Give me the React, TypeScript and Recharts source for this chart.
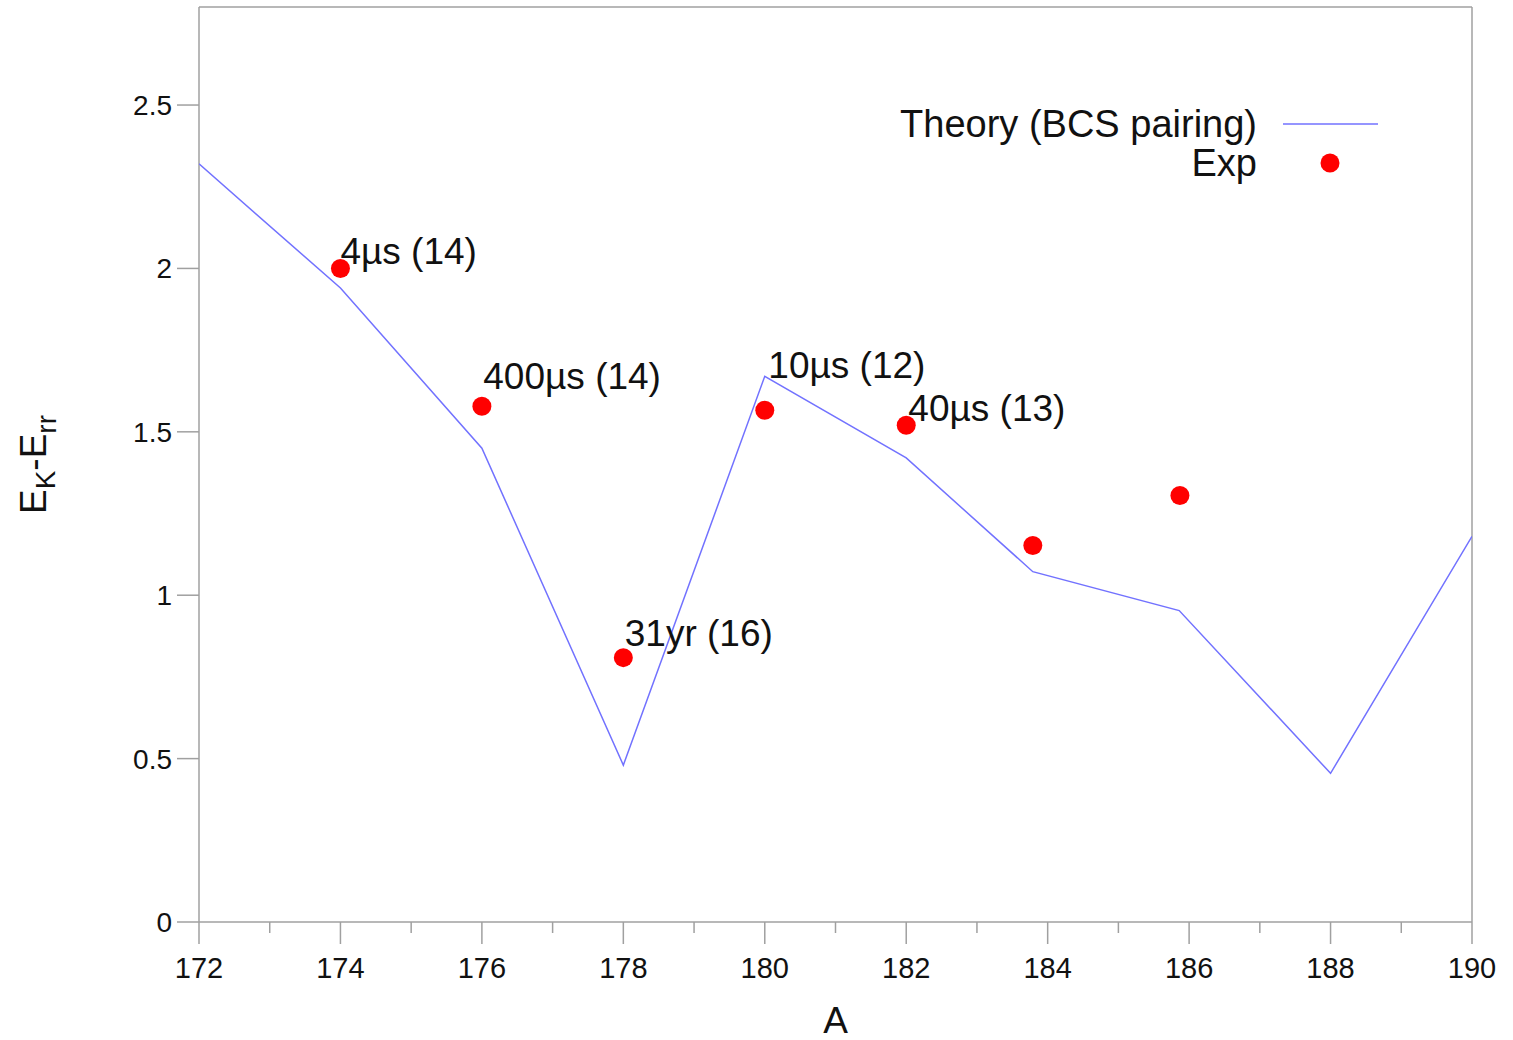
import React from 'react';
import { ComposedChart, Scatter, XAxis, YAxis, ReferenceLine } from 'recharts';

const theoryA = [172, 174, 176, 178, 180, 182, 183.79, 185.86, 188, 190];
const theoryValues = [2.32, 1.94, 1.45, 0.48, 1.67, 1.42, 1.072, 0.953, 0.455, 1.18];

const expA = [174, 176, 178, 180, 182, 183.79, 185.87];
const expValues = [2.0, 1.578, 0.809, 1.566, 1.52, 1.152, 1.305];

const noteText = ['4\u00b5s (14)', '400\u00b5s (14)', '31yr (16)', '10\u00b5s (12)', '40\u00b5s (13)'];
const noteA = [174.0, 176.02, 178.02, 180.05, 182.03];
const noteValues = [2.053, 1.67, 0.882, 1.703, 1.572];

const xTicks = [172, 173, 174, 175, 176, 177, 178, 179, 180, 181, 182, 183, 184, 185, 186, 187, 188, 189, 190];
const yTicks = [0, 0.5, 1, 1.5, 2, 2.5];

const theory = theoryA.map((x, i) => ({ x, y: theoryValues[i] }));
const exp = expA.map((x, i) => ({ x, y: expValues[i] }));
const notes = noteA.map((x, i) => ({ x, y: noteValues[i], text: noteText[i] }));

const FRAME = '#a0a0a0';
const LINE = '#7272ff';
const DOT = '#ff0000';
const SANS = '"Liberation Sans", Arial, sans-serif';
const NARROW = '"Liberation Sans Narrow", "Liberation Sans", Arial, sans-serif';

const XTick = (props: any) => {
  const { x, y, payload } = props;
  const v = payload.value;
  const axisY = y - 35;
  const major = v % 2 === 0;
  return (
    <g>
      <line x1={x} x2={x} y1={axisY} y2={axisY + (major ? 22 : 11)} stroke={FRAME} strokeWidth={1.5} />
      {major && (
        <text x={x} y={y} dy="0.71em" textAnchor="middle" fontFamily={NARROW} fontSize={29} fill="#111">
          {v}
        </text>
      )}
    </g>
  );
};

const YTick = (props: any) => {
  const { x, y, payload } = props;
  return (
    <text x={x} y={y} dy="0.355em" textAnchor="end" fontFamily={NARROW} fontSize={28} fill="#111">
      {payload.value}
    </text>
  );
};

const YLabel = (props: any) => {
  const vb = props.viewBox;
  const cy = vb.y + vb.height / 2;
  const cx = 46;
  return (
    <text x={cx} y={cy} transform={`rotate(-90, ${cx}, ${cy})`} textAnchor="middle" fontFamily={SANS} fontSize={37} fill="#111">
      E<tspan fontSize={28} dy={9}>K</tspan>
      <tspan dy={-9}>-</tspan>E<tspan fontSize={28} dy={10}>rr</tspan>
    </text>
  );
};

const XLabel = (props: any) => {
  const vb = props.viewBox;
  return (
    <text x={vb.x + vb.width / 2} y={1033} textAnchor="middle" fontFamily={SANS} fontSize={37} fill="#111">
      A
    </text>
  );
};

const NoteShape = (props: any) => (
  <text x={props.cx} y={props.cy} dominantBaseline="central" textAnchor="start" fontFamily={SANS} fontSize={37} fill="#111">
    {props.payload.text}
  </text>
);

const Legend = () => (
  <svg width={1513} height={220} style={{ position: 'absolute', left: 0, top: 0, pointerEvents: 'none' }}>
    <text x={1257} y={137} textAnchor="end" fontFamily={SANS} fontSize={38} fill="#111">
      Theory (BCS pairing)
    </text>
    <line x1={1283} x2={1378} y1={124} y2={124} stroke={LINE} strokeWidth={1.5} />
    <text x={1257} y={176} textAnchor="end" fontFamily={SANS} fontSize={38} fill="#111">
      Exp
    </text>
    <circle cx={1330} cy={163} r={9.5} fill={DOT} />
  </svg>
);

export default function App() {
  return (
    <div style={{ position: 'absolute', left: 0, top: 0, width: 1513, height: 1040, background: '#fff' }}>
      <ComposedChart width={1513} height={1040} margin={{ top: 7, right: 41, bottom: 0, left: 0 }}>
        <XAxis
          xAxisId="main"
          type="number"
          dataKey="x"
          domain={[172, 190]}
          ticks={xTicks}
          interval={0}
          height={118}
          tickSize={22}
          tickMargin={13}
          tickLine={false}
          tick={<XTick />}
          axisLine={{ stroke: FRAME, strokeWidth: 1.5 }}
          allowDataOverflow
          label={<XLabel />}
        />
        <YAxis
          yAxisId="main"
          type="number"
          dataKey="y"
          domain={[0, 2.8]}
          ticks={yTicks}
          width={199}
          tickSize={22}
          tickMargin={5}
          tickLine={{ stroke: FRAME, strokeWidth: 1.5 }}
          tick={<YTick />}
          axisLine={{ stroke: FRAME, strokeWidth: 1.5 }}
          allowDataOverflow
          label={<YLabel />}
        />
        <ReferenceLine xAxisId="main" yAxisId="main" y={2.8} stroke={FRAME} strokeWidth={1.5} ifOverflow="visible" />
        <ReferenceLine xAxisId="main" yAxisId="main" x={190} stroke={FRAME} strokeWidth={1.5} ifOverflow="visible" />
        <Scatter
          name="Theory (BCS pairing)"
          data={theory}
          xAxisId="main"
          yAxisId="main"
          line={{ stroke: LINE, strokeWidth: 1.5 }}
          shape={() => <g />}
          isAnimationActive={false}
        />
        <Scatter
          name="Exp"
          data={exp}
          xAxisId="main"
          yAxisId="main"
          shape={(p: any) => <circle cx={p.cx} cy={p.cy} r={9.5} fill={DOT} />}
          isAnimationActive={false}
        />
        <Scatter
          name="notes"
          data={notes}
          xAxisId="main"
          yAxisId="main"
          shape={<NoteShape />}
          isAnimationActive={false}
        />
      </ComposedChart>
      <Legend />
    </div>
  );
}
